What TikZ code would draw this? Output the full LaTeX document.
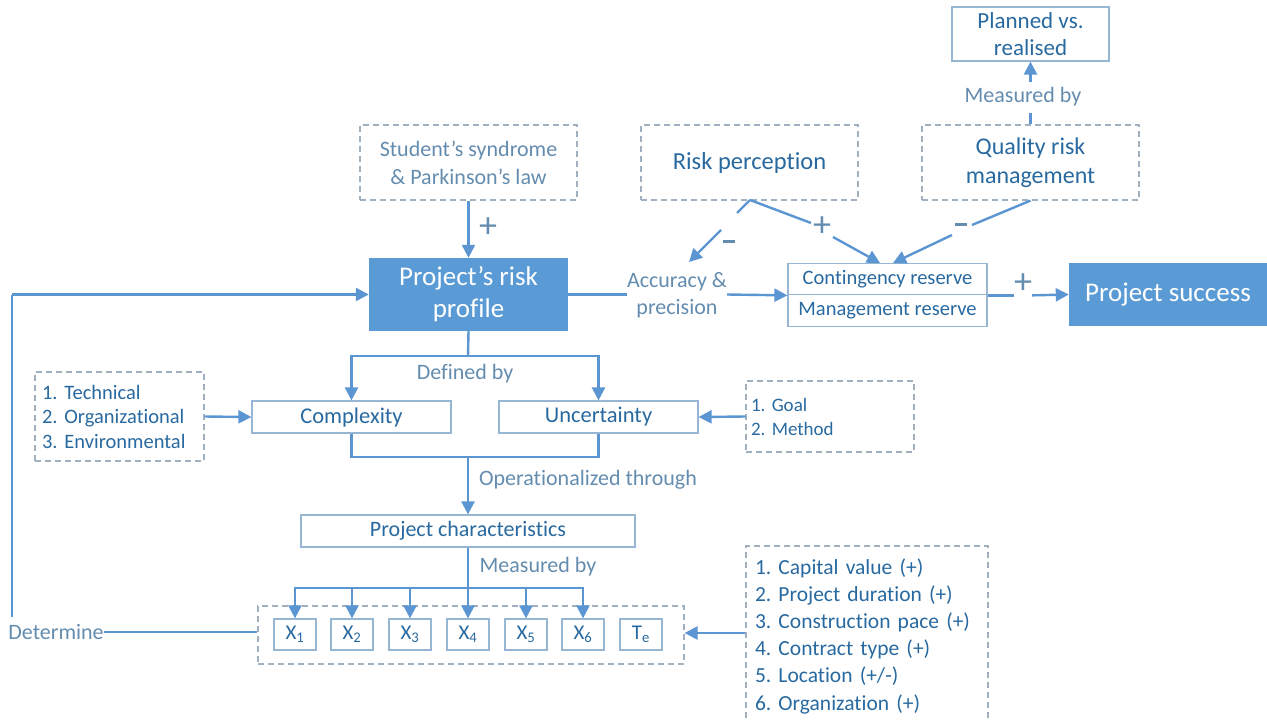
\documentclass[tikz,border=0pt]{standalone}
\usepackage{fontspec}
\setmainfont{Carlito}[Ligatures=NoCommon]
\usetikzlibrary{arrows.meta}
\frenchspacing
\definecolor{fillblue}{RGB}{91,155,213}
\definecolor{lineblue}{RGB}{91,150,210}
\definecolor{darkt}{RGB}{40,105,160}
\definecolor{labt}{RGB}{100,140,175}
\definecolor{dgray}{RGB}{160,176,192}
\definecolor{sbord}{RGB}{150,182,212}
\tikzset{
  fillbox/.style={fill=fillblue,draw=none,text=white,inner sep=0pt,align=center},
  dbox/.style={draw=dgray,line width=1.2pt,dash pattern=on 6pt off 4pt,inner sep=0pt},
  sbox/.style={draw=sbord,line width=1.2pt,inner sep=0pt,text=darkt},
  lab/.style={inner sep=0pt,text=labt,align=center},
  sign/.style={inner sep=0pt,text=labt,font=\fontsize{36}{36}\selectfont},
  minus/.style={inner sep=0pt,text=labt},
  ln/.style={draw=lineblue,line width=2.4pt},
  arr/.style={draw=lineblue,line width=2.4pt,-{Triangle[length=13pt,width=13pt]}},
}
\begin{document}
\begin{tikzpicture}[x=1pt,y=-1pt]
\useasboundingbox (0,0) rectangle (1267,721);
% top boxes
\node[dbox,minimum width=217pt,minimum height=75pt,text=labt,align=center,font=\fontsize{22}{28}\selectfont] (student) at (468.5,162.5) {Student’s syndrome\\\& Parkinson’s law};
\node[dbox,minimum width=217pt,minimum height=75pt,text=darkt,font=\fontsize{24.5}{29}\selectfont] (riskp) at (749.5,162.5) {Risk perception};
\node[dbox,minimum width=217pt,minimum height=75pt,text=darkt,align=center,font=\fontsize{24}{29}\selectfont] (quality) at (1030.5,162.5) {Quality risk\\management};
\node[sbox,minimum width=157pt,minimum height=54pt,align=center,font=\fontsize{23}{27}\selectfont] (planned) at (1030.5,34) {Planned vs.\\realised};
\node[lab,font=\fontsize{22}{26}\selectfont] (meas1) at (1023,97) {Measured by};
% main row
\node[fillbox,minimum width=199pt,minimum height=73pt,font=\fontsize{27}{32}\selectfont] (profile) at (468.5,294.5) {Project’s risk\\profile};
\node[sign] (plus1) at (488,228) {+};
\node[lab,font=\fontsize{22}{27}\selectfont] (accur) at (677,295) {Accuracy \&\\precision};
\node[sbox,minimum width=199pt,minimum height=31.5pt,font=\fontsize{20.5}{24}\selectfont] (cont) at (887.5,279) {Contingency reserve};
\node[sbox,minimum width=199pt,minimum height=31.5pt,font=\fontsize{20.5}{24}\selectfont] (mgmt) at (887.5,310.5) {Management reserve};
\node[fillbox,minimum width=198pt,minimum height=63pt,font=\fontsize{27}{32}\selectfont] (success) at (1168,294.5) {Project success};
\node[sign] (plus2) at (1023,284) {+};
\node[minus] (minus1) at (729,241) {\rule{12pt}{3pt}};
\node[sign] (plus3) at (822,227) {+};
\node[minus] (minus2) at (961,224) {\rule{12pt}{3pt}};
% definition
\node[lab,font=\fontsize{22}{26}\selectfont] (defined) at (465,374) {Defined by};
\node[sbox,minimum width=199pt,minimum height=32pt,font=\fontsize{22.5}{26}\selectfont] (compl) at (351.5,417) {Complexity};
\node[sbox,minimum width=199pt,minimum height=32pt,font=\fontsize{22.5}{26}\selectfont] (uncert) at (598.5,417) {Uncertainty};
\node[dbox,minimum width=169pt,minimum height=89pt,text width=155pt,align=left,text=darkt,font=\fontsize{20.5}{24.5}\selectfont] (tech) at (119.5,416.5) {1. Technical\\2. Organizational\\3. Environmental};
\node[dbox,minimum width=168pt,minimum height=71pt,text width=158pt,align=left,text=darkt,font=\fontsize{19}{24}\selectfont] (goal) at (830,416.5) {1. Goal\\2. Method\\[3pt]};
\node[lab,font=\fontsize{22}{26}\selectfont] (oper) at (588,480) {Operationalized through};
\node[sbox,minimum width=334pt,minimum height=32pt,font=\fontsize{22}{26}\selectfont] (pchar) at (468,531) {Project characteristics};
\node[lab,font=\fontsize{22}{26}\selectfont] (meas2) at (538,567) {Measured by};
% X group
\node[dbox,minimum width=426pt,minimum height=58pt] (xgroup) at (471,635) {};
\foreach \i/\x/\t in {1/295/X\textsubscript{1},2/352/X\textsubscript{2},3/410/X\textsubscript{3},4/468/X\textsubscript{4},5/526/X\textsubscript{5},6/583/X\textsubscript{6},7/641/T\textsubscript{e}}
  \node[sbox,minimum width=42pt,minimum height=31pt,font=\fontsize{21}{24}\selectfont] (x\i) at (\x,634.5) {\t};
\node[lab,font=\fontsize{22}{26}\selectfont] (determ) at (56,632) {Determine};
\node[dbox,minimum width=242pt,minimum height=180pt,text width=224pt,align=left,text=darkt,font=\fontsize{21.5}{27.2}\selectfont] (chars) at (867,636) {1. Capital value (+)\\2. Project duration (+)\\3. Construction pace (+)\\4. Contract type (+)\\5. Location (+/-)\\6. Organization (+)};
% coordinates
\coordinate (apex) at (750,200);
\coordinate (m1a) at (737,213);
\coordinate (m1b) at (721,230);
\coordinate (m1c) at (689,262);
\coordinate (p3a) at (811,223);
\coordinate (p3b) at (833,237);
\coordinate (p3c) at (880,263);
\coordinate (m2a) at (972,225);
\coordinate (m2b) at (952,235);
\coordinate (m2c) at (893,263);
\coordinate (q1) at (1030.5,113);
\coordinate (q2) at (1030.5,82);
% connectors
\draw[arr] (student.south) -- (profile.north);
\draw[ln] (apex) -- (m1a);
\draw[arr] (m1b) -- (m1c);
\draw[ln] (apex) -- (p3a);
\draw[arr] (p3b) -- (p3c);
\draw[ln] (quality.south) -- (m2a);
\draw[arr] (m2b) -- (m2c);
\draw[ln] (quality.north) -- (q1);
\draw[arr] (q2) -- (planned.south);
\draw[ln] (profile.east) -- (accur.west |- profile.east);
\draw[arr] (accur.east |- profile.east) -- (cont.south west);
\draw[ln] (cont.south east) -- (plus2.west |- cont.south east);
\draw[arr] (plus2.east |- cont.south east) -- (success.west);
% feedback
\coordinate (fbtop) at (12,294.5);
\coordinate (fbbot) at (12,617);
\draw[ln] (fbbot) -- (fbtop);
\draw[arr] (fbtop) -- (profile.west);
\draw[ln] (determ.east) -- (xgroup.west |- determ.east);
% defined by
\coordinate (d1) at (468,356);
\draw[ln] (profile.south) -- (d1);
\draw[arr] (d1) -| (compl.north);
\draw[arr] (d1) -| (uncert.north);
\draw[arr] (tech.east) -- (compl.west);
\draw[arr] (goal.west) -- (uncert.east);
% operationalized
\coordinate (o1) at (468,457);
\draw[ln] (compl.south) |- (o1) -| (uncert.south);
\draw[arr] (o1) -- (pchar.north);
% measured by bus
\coordinate (b1) at (468,588);
\draw[ln] (pchar.south) -- (b1);
\foreach \i in {1,...,6} \draw[arr] (b1) -| (x\i.north);
\draw[arr] (chars.west |- 0,633) -- (xgroup.east |- 0,633);
\end{tikzpicture}
\end{document}
